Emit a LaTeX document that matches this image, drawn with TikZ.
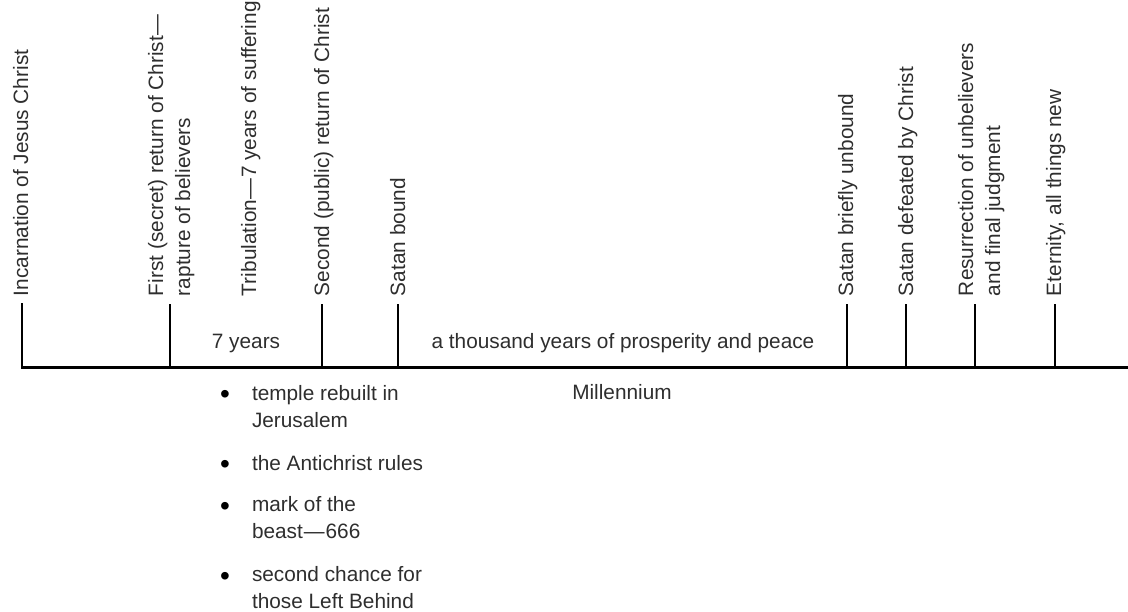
\documentclass[tikz,border=0pt]{standalone}
\usepackage{fontspec}
\setmainfont{Liberation Sans}
\begin{document}
\begin{tikzpicture}[x=1pt,y=-1pt,
  txt/.style={inner sep=0pt, outer sep=0pt, text=black!82, font=\fontsize{20.8}{26.8}\selectfont},
  vlab/.style={txt, rotate=90, anchor=base west, align=left},
  hlab/.style={txt, anchor=base},
  item/.style={txt, anchor=base west, align=left},
  bul/.style={txt, anchor=base, text=black, font=\fontsize{28}{30}\selectfont},
  axis/.style={line width=2.3pt, black},
  tick/.style={line width=2.2pt, black}]
\useasboundingbox (0,0) rectangle (1128,611);

% axis coordinates
\coordinate (a0) at (22,367.5);
\coordinate (aend) at (1128,367.5);
\foreach \n/\x in {t1/22,t2/170,t3/322,t4/398,t5/847,t6/906,t7/975,t8/1055}{
  \coordinate (\n top) at (\x,304);
  \coordinate (\n bot) at (\x,367.5);
}
\draw[axis, line cap=rect] (t1top) -- (a0) -- (aend);
\foreach \n in {t2,t3,t4,t5,t6,t7,t8}{
  \draw[tick] (\n top) -- (\n bot);
}

% vertical labels (base = baseline of the last line)
\node[vlab] (l1) at (28,296) {Incarnation of Jesus Christ};
\node[vlab] (l2) at (190,296) {First (secret) return of Christ—\\rapture of believers};
\node[vlab] (l3) at (256,296) {Tribulation\kern0.5pt—\kern0.5pt7 years of suffering};
\node[vlab] (l4) at (329,296) {Second (public) return of Christ};
\node[vlab] (l5) at (405,296) {Satan bound};
\node[vlab] (l6) at (853,296) {Satan briefly unbound};
\node[vlab] (l7) at (913,296) {Satan defeated by Christ};
\node[vlab] (l8) at (1000,296) {Resurrection of unbelievers\\and final judgment};
\node[vlab] (l9) at (1061,296) {Eternity, all things new};

% horizontal labels
\node[hlab] (seven) at (246,348) {7 years};
\node[hlab] (thousand) at (623,348) {a thousand years of prosperity and peace};
\node[hlab] (mill) at (622,399) {Millennium};

% bullet list (base = baseline of the last line)
\node[bul] (b1) at (225,403.3) {•};
\node[item] (i1) at (252,427) {temple rebuilt in\\Jerusalem};
\node[bul] (b2) at (225,473.3) {•};
\node[item] (i2) at (252,470) {the Antichrist rules};
\node[bul] (b3) at (225,515.3) {•};
\node[item] (i3) at (252,538) {mark of the\\beast\kern1pt—\kern1pt666};
\node[bul] (b4) at (225,585.3) {•};
\node[item] (i4) at (252,608) {second chance for\\those Left Behind};
\end{tikzpicture}
\end{document}
